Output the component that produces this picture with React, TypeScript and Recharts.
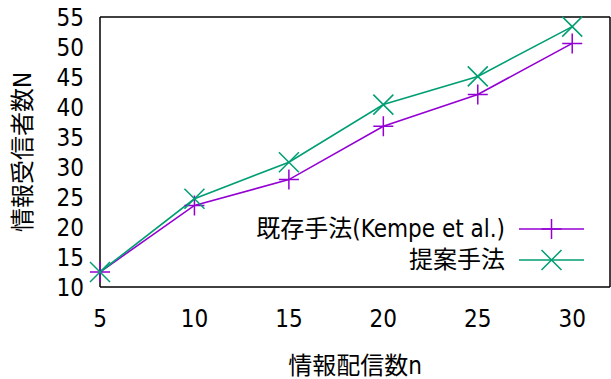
import { Legend, Line, LineChart, XAxis, YAxis } from 'recharts';

const nValues = [5, 10, 15, 20, 25, 30];
const kempe = [12.5, 23.6, 27.9, 36.8, 42.1, 50.6];
const proposed = [12.5, 24.7, 30.8, 40.4, 45.1, 53.4];
const xTicks = [5, 10, 15, 20, 25, 30];
const yTicks = [10, 15, 20, 25, 30, 35, 40, 45, 50, 55];
const seriesNames = ['既存手法(Kempe et al.)', '提案手法'];
const seriesColors = ['#9400d3', '#009e73'];

const FONT = "'DejaVu Sans Condensed', 'DejaVu Sans', 'Noto Sans CJK JP', sans-serif";
const FS = 24;
const X_DOMAIN: [number, number] = [5, 32];
const Y_DOMAIN: [number, number] = [10, 55];
const BORDER = { stroke: '#000', strokeWidth: 1.5 };

const data = nValues.map((n, i) => ({ n, kempe: kempe[i], proposed: proposed[i] }));

// gnuplot-style point glyphs: + for series 1, x for series 2
function Marker({ cx, cy, kind, color }: { cx: number; cy: number; kind: number; color: string }) {
  const r = 10;
  const d =
    kind === 0
      ? `M${cx - r},${cy}H${cx + r}M${cx},${cy - r}V${cy + r}`
      : `M${cx - r},${cy - r}L${cx + r},${cy + r}M${cx - r},${cy + r}L${cx + r},${cy - r}`;
  return <path d={d} stroke={color} strokeWidth={1.5} fill="none" />;
}

function KeyBox() {
  return (
    <svg width={340} height={62} style={{ overflow: 'visible', display: 'block' }}>
      {seriesNames.map((name, i) => {
        const y = 14 + i * 31;
        return (
          <g key={name}>
            <text x={248} y={y} textAnchor="end" dominantBaseline="central" fontSize={FS} fontFamily={FONT} fill="#000">
              {name}
            </text>
            <line x1={262} x2={327} y1={y} y2={y} stroke={seriesColors[i]} strokeWidth={1.6} />
            <Marker cx={294.5} cy={y} kind={i} color={seriesColors[i]} />
          </g>
        );
      })}
    </svg>
  );
}

export default function App() {
  const tickStyle = { fill: '#000', fontSize: FS, fontFamily: FONT };
  return (
    <div style={{ position: 'absolute', left: 0, top: 0, background: '#fff' }}>
      <LineChart width={611} height={379} data={data} margin={{ top: 17, right: 1, bottom: 0, left: 0 }}>
        <XAxis
          xAxisId="b"
          dataKey="n"
          type="number"
          domain={X_DOMAIN}
          ticks={xTicks}
          interval={0}
          height={92}
          tickSize={0}
          tickMargin={23}
          tickLine={false}
          axisLine={BORDER}
          tick={tickStyle}
          label={{ value: '情報配信数n', position: 'center', dy: 32, fill: '#000', fontSize: FS, fontFamily: FONT }}
        />
        <XAxis
          xAxisId="bm"
          dataKey="n"
          type="number"
          orientation="bottom"
          mirror
          domain={X_DOMAIN}
          ticks={xTicks}
          interval={0}
          height={1}
          tick={false}
          tickSize={11}
          axisLine={false}
          tickLine={BORDER}
        />
        <XAxis
          xAxisId="t"
          dataKey="n"
          type="number"
          orientation="top"
          mirror
          domain={X_DOMAIN}
          ticks={xTicks}
          interval={0}
          height={1}
          tick={false}
          tickSize={11}
          axisLine={BORDER}
          tickLine={BORDER}
        />
        <YAxis
          yAxisId="l"
          type="number"
          domain={Y_DOMAIN}
          ticks={yTicks}
          interval={0}
          width={100}
          tickSize={0}
          tickMargin={16}
          tickLine={false}
          axisLine={BORDER}
          tick={tickStyle}
          label={{ value: '情報受信者数N', angle: -90, position: 'center', dx: -28, fill: '#000', fontSize: FS, fontFamily: FONT }}
        />
        <YAxis
          yAxisId="lm"
          type="number"
          orientation="left"
          mirror
          domain={Y_DOMAIN}
          ticks={yTicks}
          interval={0}
          width={1}
          tick={false}
          tickSize={11}
          axisLine={false}
          tickLine={BORDER}
        />
        <YAxis
          yAxisId="r"
          type="number"
          orientation="right"
          mirror
          domain={Y_DOMAIN}
          ticks={yTicks}
          interval={0}
          width={1}
          tick={false}
          tickSize={11}
          axisLine={BORDER}
          tickLine={BORDER}
        />
        <Legend
          verticalAlign="middle"
          layout="horizontal"
          content={() => <KeyBox />}
          wrapperStyle={{ position: 'absolute', left: 257, top: 215, width: 340, height: 62 }}
        />
        <Line
          xAxisId="b"
          yAxisId="l"
          dataKey="kempe"
          name={seriesNames[0]}
          stroke={seriesColors[0]}
          strokeWidth={1.6}
          isAnimationActive={false}
          dot={(p: any) => <Marker key={p.index} cx={p.cx} cy={p.cy} kind={0} color={seriesColors[0]} />}
        />
        <Line
          xAxisId="b"
          yAxisId="l"
          dataKey="proposed"
          name={seriesNames[1]}
          stroke={seriesColors[1]}
          strokeWidth={1.6}
          isAnimationActive={false}
          dot={(p: any) => <Marker key={p.index} cx={p.cx} cy={p.cy} kind={1} color={seriesColors[1]} />}
        />
      </LineChart>
    </div>
  );
}
